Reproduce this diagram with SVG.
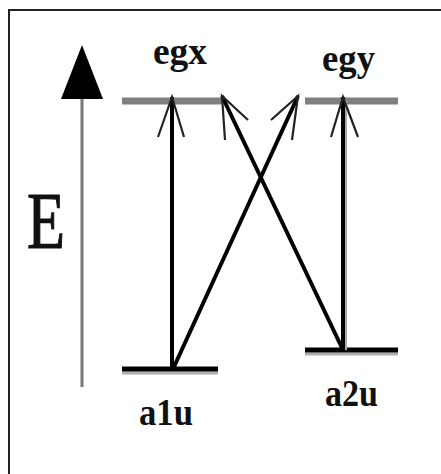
<svg xmlns="http://www.w3.org/2000/svg" width="441" height="474" viewBox="0 0 441 474">
<style>
.lbl{font-family:"Liberation Serif","Times New Roman",serif;font-weight:bold;font-size:38px;fill:#111}
.lvlu{stroke:#808080;stroke-width:7;fill:none}
.lvll{stroke:#000;stroke-width:5;fill:none}
.shade{stroke:#b0b0b0;stroke-width:3;fill:none}
.shaft{stroke:#000;stroke-width:4;fill:none}
.barb{stroke:#222;stroke-width:2.2;fill:none}
</style>
<rect x="0" y="0" width="441" height="474" fill="#fff"/>
<polyline points="9,474 9,10 441,10" fill="none" stroke="#222" stroke-width="2"/>
<g id="energy-axis">
<line x1="82" y1="98" x2="82" y2="387" stroke="#777" stroke-width="3"/>
<polygon points="82,45 61,99 103,99" fill="#000"/>
<text x="27" y="248" font-family="Liberation Serif,'Times New Roman',serif" font-size="80" fill="#111" stroke="#111" stroke-width="1.2" textLength="38" lengthAdjust="spacingAndGlyphs">E</text>
</g>
<g id="egx">
<line class="lvlu" x1="122" y1="101" x2="222" y2="101"/>
<text class="lbl" x="153" y="64" textLength="54" lengthAdjust="spacingAndGlyphs">egx</text>
</g>
<g id="egy">
<line class="lvlu" x1="305" y1="101" x2="398" y2="101"/>
<text class="lbl" x="322" y="71" textLength="53" lengthAdjust="spacingAndGlyphs">egy</text>
</g>
<g id="a1u">
<line class="shade" x1="122" y1="373" x2="218" y2="373"/>
<line class="lvll" x1="122" y1="369" x2="218" y2="369"/>
<text class="lbl" x="139" y="425" textLength="54" lengthAdjust="spacingAndGlyphs">a1u</text>
</g>
<g id="a2u">
<line class="shade" x1="305" y1="354" x2="398" y2="354"/>
<line class="lvll" x1="305" y1="350" x2="398" y2="350"/>
<text class="lbl" x="325" y="406" textLength="53" lengthAdjust="spacingAndGlyphs">a2u</text>
</g>
<g id="connectors">
<line class="shaft" x1="172" y1="369" x2="172" y2="97"/>
<polyline class="barb" points="158,137 172,97 184,137"/>
<line x1="346" y1="350" x2="346" y2="100" stroke="#aaa" stroke-width="2"/>
<line class="shaft" x1="343" y1="350" x2="343" y2="97"/>
<polyline class="barb" points="331,137 343,97 358,137"/>
<line class="shaft" x1="173" y1="369" x2="298" y2="96"/>
<polyline class="barb" points="271,120 298,96 292,140"/>
<line class="shaft" x1="343" y1="350" x2="222" y2="96"/>
<polyline class="barb" points="248,120 222,96 225,140"/>
</g>
</svg>
